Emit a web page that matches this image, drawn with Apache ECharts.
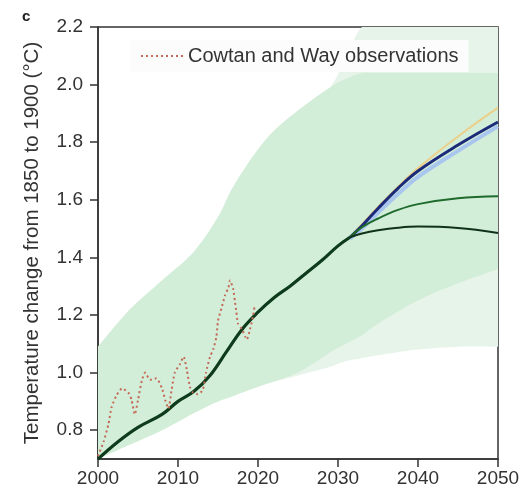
<!DOCTYPE html>
<html><head><meta charset="utf-8">
<script src="https://cdn.jsdelivr.net/npm/echarts@6/dist/echarts.min.js"></script>
<style>html,body{margin:0;padding:0;background:#fff}#c{width:523px;height:500px}</style>
</head><body><div id="c"></div>
<script>
// ---- data ----
var xTicks = [2000, 2010, 2020, 2030, 2040, 2050];
var yTicks = [0.8, 1.0, 1.2, 1.4, 1.6, 1.8, 2.0, 2.2];

var bandYears = [2000, 2004, 2008, 2012, 2015, 2017, 2021, 2025, 2029, 2031, 2033, 2035, 2040, 2045, 2050];
var outerLow  = [0.70, 0.75, 0.80, 0.86, 0.90, 0.92, 0.96, 0.99, 1.02, 1.04, 1.05, 1.06, 1.08, 1.09, 1.09];
var outerHigh = [1.09, 1.22, 1.32, 1.42, 1.54, 1.65, 1.81, 1.91, 1.99, 2.10, 2.20, 2.20, 2.20, 2.20, 2.20];
var innerLow  = [0.70, 0.75, 0.80, 0.86, 0.90, 0.92, 0.96, 1.00, 1.07, 1.10, 1.13, 1.17, 1.25, 1.31, 1.36];
var innerHigh = [1.09, 1.22, 1.32, 1.42, 1.54, 1.65, 1.81, 1.91, 1.99, 2.02, 2.04, 2.04, 2.04, 2.04, 2.04];

var centralYears  = [2000, 2002.5, 2005, 2008, 2010, 2012, 2014, 2016, 2018, 2020, 2022, 2024, 2026, 2028, 2030, 2031.5];
var centralValues = [0.70, 0.76, 0.81, 0.855, 0.90, 0.935, 0.99, 1.07, 1.15, 1.21, 1.26, 1.30, 1.345, 1.39, 1.44, 1.47];

var scenYears     = [2031.5, 2033, 2035, 2037.5, 2040, 2045, 2050];
var yellowVals    = [1.47, 1.515, 1.575, 1.645, 1.71, 1.82, 1.92];
var lightBlueVals = [1.465, 1.50, 1.555, 1.62, 1.68, 1.77, 1.855];
var navyVals      = [1.47, 1.51, 1.57, 1.64, 1.70, 1.79, 1.87];
var greenVals     = [1.47, 1.505, 1.535, 1.565, 1.585, 1.605, 1.612];
var darkVals      = [1.47, 1.483, 1.494, 1.503, 1.507, 1.502, 1.485];

var obsYears = [2000.0, 2000.7, 2001.3, 2001.7, 2002.3, 2003.0, 2003.8, 2004.2, 2004.6, 2005.0, 2005.5, 2005.9, 2006.5, 2007.3, 2008.0, 2008.4, 2008.8, 2009.2, 2009.6, 2010.25, 2010.7, 2011.1, 2011.5, 2011.9, 2012.5, 2013.1, 2013.5, 2014.0, 2014.4, 2014.8, 2015.0, 2015.5, 2015.9, 2016.3, 2016.5, 2016.9, 2017.1, 2017.3, 2017.5, 2018.0, 2018.4, 2018.6, 2019.0, 2019.4, 2019.6];
var obsValues = [0.71, 0.76, 0.82, 0.88, 0.92, 0.945, 0.93, 0.905, 0.855, 0.905, 0.975, 1.0, 0.975, 0.98, 0.945, 0.905, 0.875, 0.94, 1.0, 1.03, 1.055, 1.01, 0.95, 0.93, 0.925, 0.94, 1.0, 1.055, 1.08, 1.125, 1.18, 1.23, 1.27, 1.295, 1.32, 1.29, 1.25, 1.21, 1.17, 1.15, 1.125, 1.115, 1.15, 1.2, 1.235];

function pairs(xs, ys) { return xs.map(function (x, i) { return [x, ys[i]]; }); }
function bandData(low, high) { return bandYears.map(function (x, i) { return [x, low[i], high[i]]; }); }

var FONT = 'Liberation Sans, Arial, sans-serif';
var chart = echarts.init(document.getElementById('c'), null, { renderer: 'canvas' });

function addCurve(pts) {
  var s = '';
  for (var i = 0; i < pts.length - 1; i++) {
    var p0 = pts[Math.max(i - 1, 0)], p1 = pts[i], p2 = pts[i + 1], p3 = pts[Math.min(i + 2, pts.length - 1)];
    var t = 0.16;
    var c1 = [p1[0] + (p2[0] - p0[0]) * t, p1[1] + (p2[1] - p0[1]) * t];
    var c2 = [p2[0] - (p3[0] - p1[0]) * t, p2[1] - (p3[1] - p1[1]) * t];
    s += ' C' + c1[0] + ' ' + c1[1] + ' ' + c2[0] + ' ' + c2[1] + ' ' + p2[0] + ' ' + p2[1];
  }
  return s;
}

function bandSeries(name, low, high, color, z) {
  var data = bandData(low, high);
  return {
    name: name, type: 'custom', z: z, silent: true, clip: true,
    encode: { x: 0, y: [1, 2] },
    data: data,
    renderItem: function (params, api) {
      if (params.dataIndex !== 0) return null;
      var top = data.map(function (d) { return api.coord([d[0], d[2]]); });
      var rb = data.map(function (d) { return api.coord([d[0], d[1]]); }).reverse();
      var path = 'M' + top[0][0] + ' ' + top[0][1] + addCurve(top) +
        ' L' + rb[0][0] + ' ' + rb[0][1] + addCurve(rb) + ' Z';
      var r = echarts.graphic.makePath(path, {}).getBoundingRect();
      return {
        type: 'path',
        shape: { pathData: path, layout: 'cover', x: r.x, y: r.y, width: r.width, height: r.height },
        style: { fill: color, stroke: null }
      };
    }
  };
}

function lineSeries(name, xs, ys, color, width, z, extra) {
  var s = {
    name: name, type: 'line', data: pairs(xs, ys), showSymbol: false, symbol: 'none',
    smooth: 0.4, lineStyle: { color: color, width: width }, itemStyle: { color: color }, z: z, silent: true
  };
  for (var k in extra) s[k] = extra[k];
  return s;
}

chart.setOption({
  animation: false,
  backgroundColor: '#ffffff',
  textStyle: { fontFamily: FONT },
  grid: { left: 98, right: 25, top: 27, bottom: 41, show: true, borderColor: '#333', borderWidth: 1.5, backgroundColor: 'transparent' },
  graphic: [
    { type: 'text', left: 22, top: 9, style: { text: 'c', font: 'bold 15px ' + FONT, fill: '#222' } }
  ],
  legend: {
    data: ['Cowtan and Way observations'],
    left: 130, top: 40, padding: [6, 10, 6, 10],
    backgroundColor: '#fbfcfb',
    itemWidth: 42, itemHeight: 12, itemGap: 10,
    itemStyle: { opacity: 0 },
    textStyle: { fontSize: 20, color: '#333', fontFamily: FONT }
  },
  xAxis: {
    type: 'value', min: 2000, max: 2050,
    axisLine: { show: true, lineStyle: { color: '#333', width: 1.5 } },
    axisTick: { show: true, length: 8, lineStyle: { color: '#333', width: 1.5 }, customValues: xTicks },
    axisLabel: { margin: 10, fontSize: 19, color: '#333', fontFamily: FONT, customValues: xTicks,
      formatter: function (v) { return String(v); } },
    splitLine: { show: false }
  },
  yAxis: {
    type: 'value', min: 0.7, max: 2.2,
    name: 'Temperature change from 1850 to 1900 (°C)',
    nameLocation: 'middle', nameGap: 55, nameRotate: 90,
    nameTextStyle: { fontSize: 20.5, color: '#333', fontFamily: FONT },
    axisLine: { show: true, lineStyle: { color: '#333', width: 1.5 } },
    axisTick: { show: true, length: 8, lineStyle: { color: '#333', width: 1.5 }, customValues: yTicks },
    axisLabel: { margin: 15, fontSize: 19, color: '#333', fontFamily: FONT, customValues: yTicks,
      formatter: function (v) { return v.toFixed(1); } },
    splitLine: { show: false }
  },
  series: [
    bandSeries('outerBand', outerLow, outerHigh, '#e7f4e9', 1),
    bandSeries('innerBand', innerLow, innerHigh, '#d3eed8', 2),
    lineSeries('yellow', scenYears, yellowVals, '#ecd08a', 2, 4),
    lineSeries('lightBlue', scenYears, lightBlueVals, '#a9c6ee', 4, 4),
    lineSeries('navy', scenYears, navyVals, '#1c2a7a', 3, 5),
    lineSeries('green', scenYears, greenVals, '#1e6b2c', 2, 5),
    lineSeries('dark', scenYears, darkVals, '#0f3318', 2, 5),
    lineSeries('central', centralYears, centralValues, '#0e3b1c', 3.2, 6),
    lineSeries('Cowtan and Way observations', obsYears, obsValues, '#c46a58', 2, 7,
      { smooth: 0.2, lineStyle: { color: '#c46a58', width: 2, type: [2, 3] } })
  ]
});
</script></body></html>
